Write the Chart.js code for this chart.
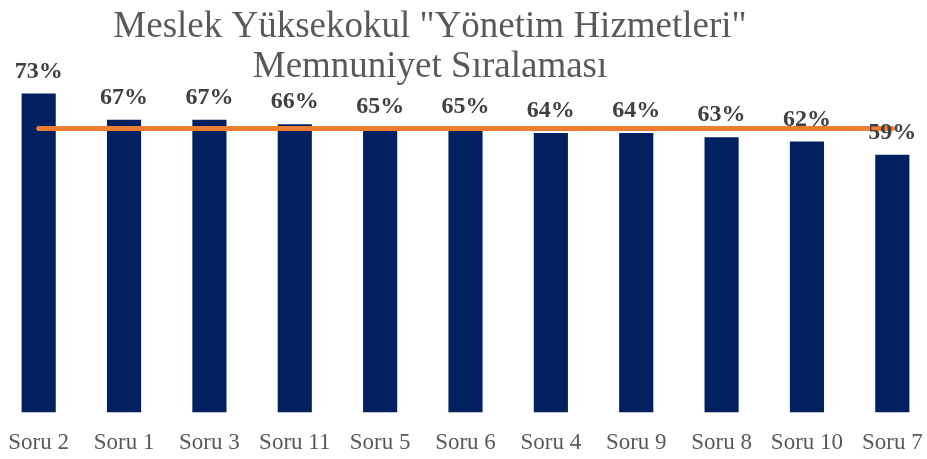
<!DOCTYPE html>
<html>
<head>
<meta charset="utf-8">
<script src="https://cdn.jsdelivr.net/npm/chart.js@4.4.1/dist/chart.umd.min.js"></script>
<style>
  html, body { margin: 0; padding: 0; background: #ffffff; overflow: hidden; }
  #wrap { position: absolute; left: -4px; top: 0; width: 940px; height: 460px; }
</style>
</head>
<body>
<div id="wrap"><canvas id="memnuniyetChart"></canvas></div>
<script>
// Soru sıralaması (yüzde)
const sorular = ["Soru 2", "Soru 1", "Soru 3", "Soru 11", "Soru 5", "Soru 6", "Soru 4", "Soru 9", "Soru 8", "Soru 10", "Soru 7"];
const memnuniyet = [73, 67, 67, 66, 65, 65, 64, 64, 63, 62, 59];
// genel ortalama çizgisi
const ortalama = [65, 65, 65, 65, 65, 65, 65, 65, 65, 65, 65];
const baslik = ['Meslek Yüksekokul "Yönetim Hizmetleri"', 'Memnuniyet Sıralaması'];

const titlePlugin = {
    id: 'ikiSatirBaslik',
    afterDraw(chart) {
        const ctx = chart.ctx;
        ctx.save();
        ctx.font = '37px "Liberation Serif", "Times New Roman", serif';
        ctx.fillStyle = '#595959';
        ctx.textAlign = 'center';
        ctx.textBaseline = 'alphabetic';
        ctx.fillText(baslik[0], 434, 37);
        ctx.fillText(baslik[1], 434, 77);
        ctx.restore();
    }
};

const labelPlugin = {
    id: 'degerEtiketleri',
    afterDatasetsDraw(chart) {
        const ctx = chart.ctx;
        const meta = chart.getDatasetMeta(1);
        ctx.save();
        ctx.font = 'bold 24px "Liberation Serif", "Times New Roman", serif';
        ctx.fillStyle = '#404040';
        ctx.textAlign = 'center';
        ctx.textBaseline = 'alphabetic';
        meta.data.forEach(function (bar, i) {
            ctx.fillText(memnuniyet[i] + '%', bar.x, bar.y - 16);
        });
        ctx.restore();
    }
};

new Chart(document.getElementById("memnuniyetChart"), {
    type: 'bar',
    data: {
        labels: sorular,
        datasets: [
            {
                type: 'line',
                data: ortalama,
                borderColor: '#ED7D31',
                borderWidth: 5,
                borderCapStyle: 'round',
                pointRadius: 0,
                fill: false,
                order: 0
            },
            {
                data: memnuniyet,
                backgroundColor: '#002060',
                barPercentage: 0.4,
                categoryPercentage: 1.0,
                order: 1
            }
        ]
    },
    options: {
        responsive: true,
        maintainAspectRatio: false,
        animation: false,
        layout: {
            padding: { left: 0, right: 1, top: 63, bottom: 0 }
        },
        plugins: {
            legend: { display: false },
            tooltip: { enabled: false }
        },
        scales: {
            x: {
                grid: { display: false, drawTicks: true, tickLength: 14 },
                border: { display: false },
                ticks: {
                    color: '#595959',
                    padding: 3,
                    font: { family: '"Liberation Serif", "Times New Roman", serif', size: 23 }
                }
            },
            y: {
                display: false,
                min: 0,
                max: 80
            }
        }
    },
    plugins: [titlePlugin, labelPlugin]
});
</script>
</body>
</html>
